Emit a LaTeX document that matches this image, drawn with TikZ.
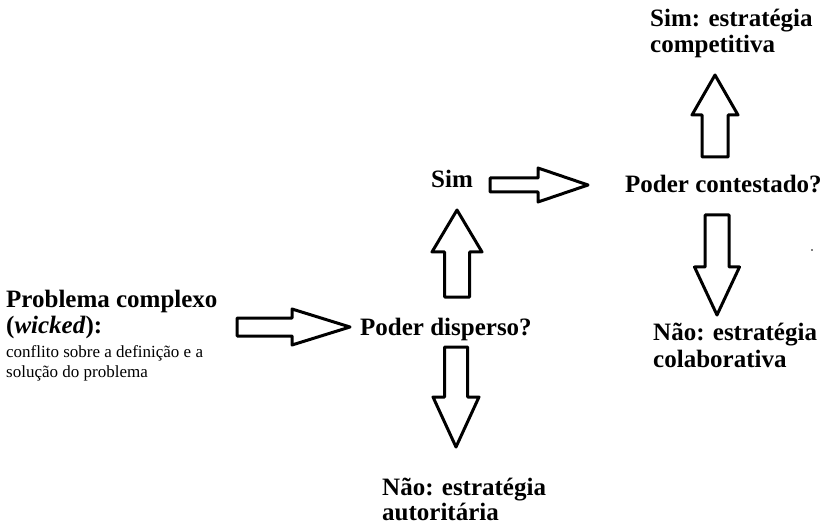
\documentclass[tikz,border=0pt]{standalone}
\usepackage{fontspec}
\setmainfont{Liberation Serif}
\usetikzlibrary{calc}
\newcommand\twolines[3]{\vtop{\baselineskip=#1\hbox{#2}\hbox{#3}}}
% block arrow: start, tip, shaft half width, head half width, head length
\newcommand\blockarrow[5]{%
  \coordinate (ba-h) at ($(#2)!#5!(#1)$);
  \draw[blockarr] ($(#1)!#3!90:(#2)$) -- ($(ba-h)!#3!90:(#2)$)
    -- ($(ba-h)!#4!90:(#2)$) -- (#2) -- ($(ba-h)!#4!-90:(#2)$)
    -- ($(ba-h)!#3!-90:(#2)$) -- ($(#1)!#3!-90:(#2)$) -- cycle;
}
\begin{document}
\begin{tikzpicture}[x=1pt,y=-1pt,
  boldtxt/.style={font=\fontsize{25}{27}\selectfont\bfseries, inner sep=0pt, anchor=base west},
  smalltxt/.style={font=\fontsize{17}{20}\selectfont, inner sep=0pt, anchor=base west},
  blockarr/.style={draw=black, fill=white, line width=3pt, line join=round}]
\path[use as bounding box, fill=white] (0,0) rectangle (823,524);

% texts
\node[boldtxt] (prob) at (6,307) {\twolines{27pt}{Problema complexo}{(\textit{wicked}):}};
\node[smalltxt] (desc) at (6,357) {\twolines{20pt}{conflito sobre a definição e a}{solução do problema}};
\node[boldtxt] (disp) at (360,335) {Poder disperso?};
\node[boldtxt] (sim) at (431,188) {Sim};
\node[boldtxt] (cont) at (625,193) {Poder contestado?};
\node[boldtxt] (comp) at (650,27) {\twolines{26pt}{Sim: estratégia}{competitiva}};
\node[boldtxt] (colab) at (653,340) {\twolines{28pt}{Não: estratégia}{colaborativa}};
\node[boldtxt] (auto) at (382,495) {\twolines{25pt}{Não: estratégia}{autoritária}};

% arrow end points
\coordinate (a1s) at (237,327); \coordinate (a1t) at (350,327);
\coordinate (a2s) at (457,297); \coordinate (a2t) at (457,210);
\coordinate (a3s) at (490,185); \coordinate (a3t) at (588,185);
\coordinate (a4s) at (715,157); \coordinate (a4t) at (715,75);
\coordinate (a5s) at (717,215); \coordinate (a5t) at (717,315);
\coordinate (a6s) at (456,347); \coordinate (a6t) at (456,447);

\blockarrow{a1s}{a1t}{9pt}{18pt}{58pt}
\blockarrow{a2s}{a2t}{12.5pt}{25pt}{42pt}
\blockarrow{a3s}{a3t}{7pt}{17pt}{50pt}
\blockarrow{a4s}{a4t}{13pt}{23pt}{40pt}
\blockarrow{a5s}{a5t}{12pt}{22.5pt}{48pt}
\blockarrow{a6s}{a6t}{11.5pt}{23pt}{50pt}

\fill (812,250) circle (0.8pt);
\end{tikzpicture}
\end{document}
